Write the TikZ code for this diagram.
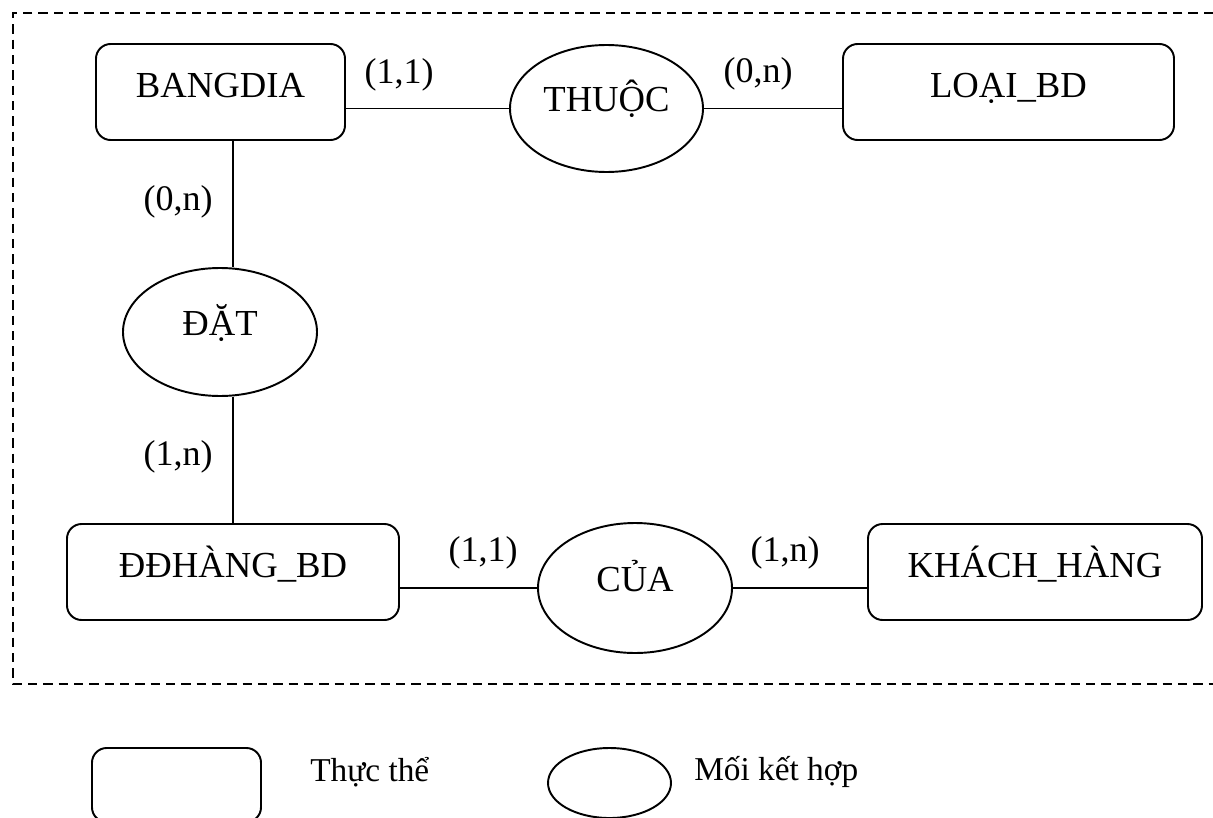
\documentclass[tikz,border=0pt]{standalone}
\usepackage{fontspec}
\setmainfont{Liberation Serif}
\usetikzlibrary{shapes.geometric}

\tikzset{
  stroke/.style={line width=1.45pt, black},
  % entity: rounded box, text set a little above the middle
  entity/.style={stroke, draw, rectangle, rounded corners=11pt, inner sep=0pt,
    minimum height=72pt, text height=20pt, text depth=12.3pt,
    font=\fontsize{27.5}{33}\selectfont},
  % relationship: ellipse, text set above the middle
  relation/.style={stroke, draw, ellipse, inner sep=0pt,
    text height=20pt, text depth=15.3pt,
    font=\fontsize{27.5}{33}\selectfont},
  card/.style={inner sep=0pt, font=\fontsize{27}{32}\selectfont},
  link/.style={stroke},
  frame/.style={line width=1.4pt, dash pattern=on 7pt off 4.5pt},
  legendtext/.style={inner sep=0pt, anchor=base west, font=\fontsize{25}{30}\selectfont}
}

\begin{document}
\begin{tikzpicture}[x=0.75pt, y=-0.75pt]
\useasboundingbox (0,0) rectangle (1213,817);

% dashed frame, open to the right
\draw[frame] (1213,13) -- (13,13) -- (13,684) -- (1213,684);

% entities
\node[entity, minimum width=186.75pt] (bangdia) at (220.5,92) {BANGDIA};
\node[entity, minimum width=248.25pt] (loaibd) at (1008.5,92) {LOẠI\_BD};
\node[entity, minimum width=249pt] (ddh) at (233,572) {ĐĐHÀNG\_BD};
\node[entity, minimum width=250.5pt] (kh) at (1035,572) {KHÁCH\_HÀNG};

% relationships
\node[relation, minimum width=144.75pt, minimum height=95.25pt] (thuoc) at (606.5,108.5) {THUỘC};
\node[relation, minimum width=145.5pt, minimum height=96pt] (dat) at (220,332) {ĐẶT};
\node[relation, minimum width=145.5pt, minimum height=97.5pt] (cua) at (635,588) {CỦA};

% connectors
\draw[link] (thuoc.west -| bangdia.east) -- (thuoc.west);
\draw[link] (thuoc.east) -- (thuoc.east -| loaibd.west);
\draw[link] (bangdia.south -| ddh.north) -- (dat.north -| ddh.north);
\draw[link] (dat.south -| ddh.north) -- (ddh.north);
\draw[link] (cua.west -| ddh.east) -- (cua.west);
\draw[link] (cua.east) -- (cua.east -| kh.west);

% cardinalities
\node[card] (c1) at (399,75) {(1,1)};
\node[card] (c2) at (758,74) {(0,n)};
\node[card] (c3) at (178,202) {(0,n)};
\node[card] (c4) at (178,457) {(1,n)};
\node[card] (c5) at (483,553) {(1,1)};
\node[card] (c6) at (785,553) {(1,n)};

% legend
\node[stroke, draw, rectangle, rounded corners=11pt, minimum width=126.75pt,
      minimum height=55.5pt] (legent) at (176.5,785) {};
\node[legendtext] (legenttext) at (310,781) {Thực thể};
\node[stroke, draw, ellipse, minimum width=92.25pt, minimum height=52.5pt,
      inner sep=0pt] (legrel) at (609.5,783) {};
\node[legendtext] (legreltext) at (694,780) {Mối kết hợp};
\end{tikzpicture}
\end{document}
